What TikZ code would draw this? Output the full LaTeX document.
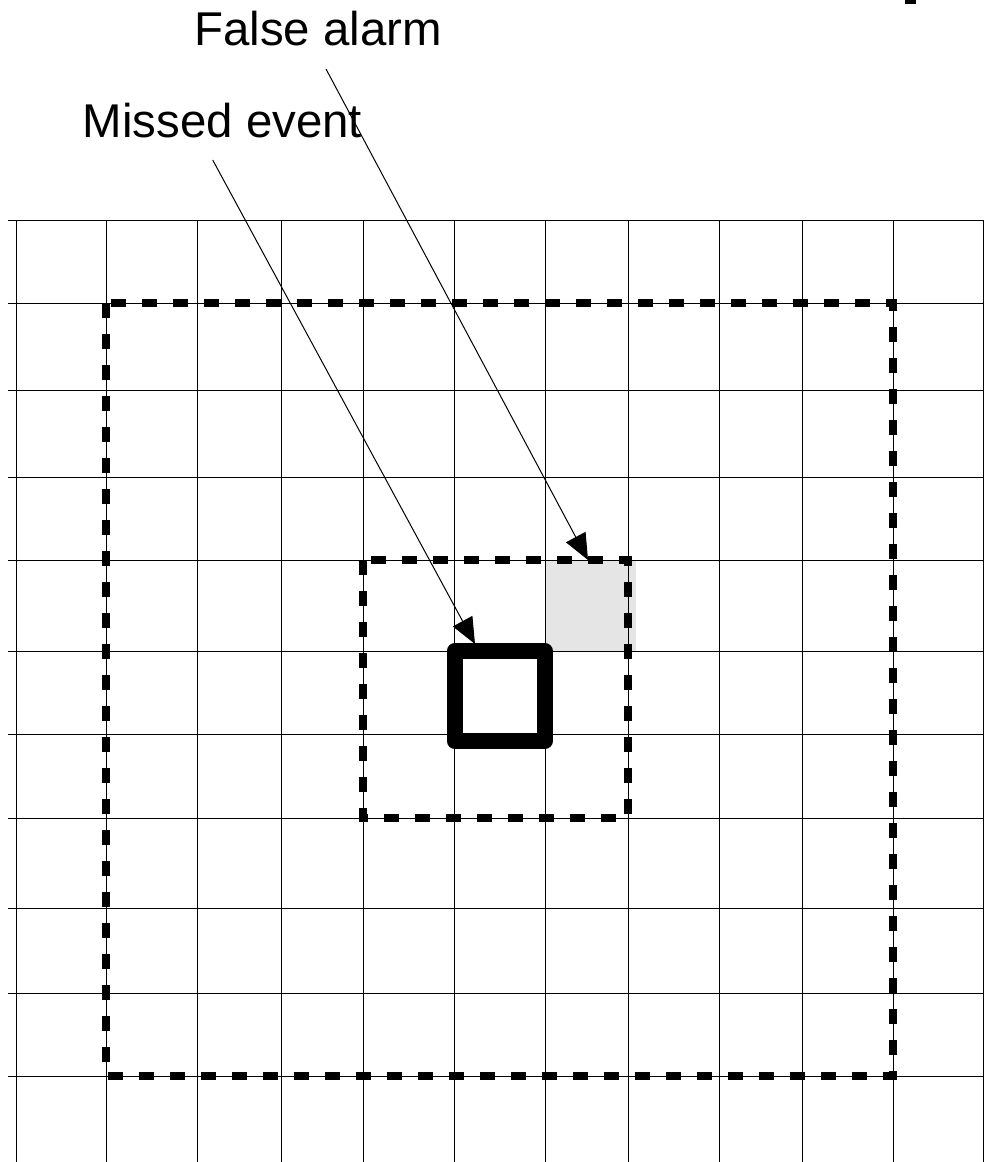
\documentclass[tikz,border=0pt]{standalone}
\usepackage{fontspec}
\setmainfont{Liberation Sans}
\usetikzlibrary{arrows.meta}
\begin{document}
\begin{tikzpicture}[x=1pt,y=-1pt,
  gridline/.style={line width=1pt,black},
  dashbox/.style={line width=8pt,dash pattern=on 15pt off 16pt,black},
  eventbox/.style={draw,line width=16pt,line join=round,inner sep=0pt,minimum size=90pt},
  cellbox/.style={fill=black!10,inner sep=0pt,minimum size=91pt},
  pointer/.style={line width=1pt,-{Triangle[length=26pt,width=22pt]}},
  lbl/.style={inner sep=0pt,anchor=base west,font=\fontsize{47.4}{56}\selectfont}]
\useasboundingbox (0,0) rectangle (984,1162);
% grey cell
\node[cellbox] (fa) at (590.5,605.5) {};
% grid
\foreach \x in {16,106,197,281,363,454,545,628,719,802,893,983}
  \draw[gridline] (\x,220) -- (\x,1162);
\foreach \y in {220,303,390,477,560,651,734,818,908,993,1076}
  \draw[gridline] (8,\y) -- (984,\y);
% dashed windows
\draw[dashbox] (106,303) rectangle (893,1076);
\draw[dashbox] (363,560) rectangle (628,818);
% event cell
\node[eventbox] (ev) at (499.7,696) {};
% top-right fragment
\fill (905,0) rectangle (916,3.5);
% labels
\node[lbl] (fal) at (194,45) {False alarm};
\node[lbl] (mel) at (82.7,137) {Missed event};
\coordinate (fastart) at (326,69);
\coordinate (mestart) at (212.7,160);
\coordinate (fatip) at (588,560);
\coordinate (metip) at (475,644);
\draw[pointer] (fastart) -- (fatip);
\draw[pointer] (mestart) -- (metip);
\end{tikzpicture}
\end{document}
